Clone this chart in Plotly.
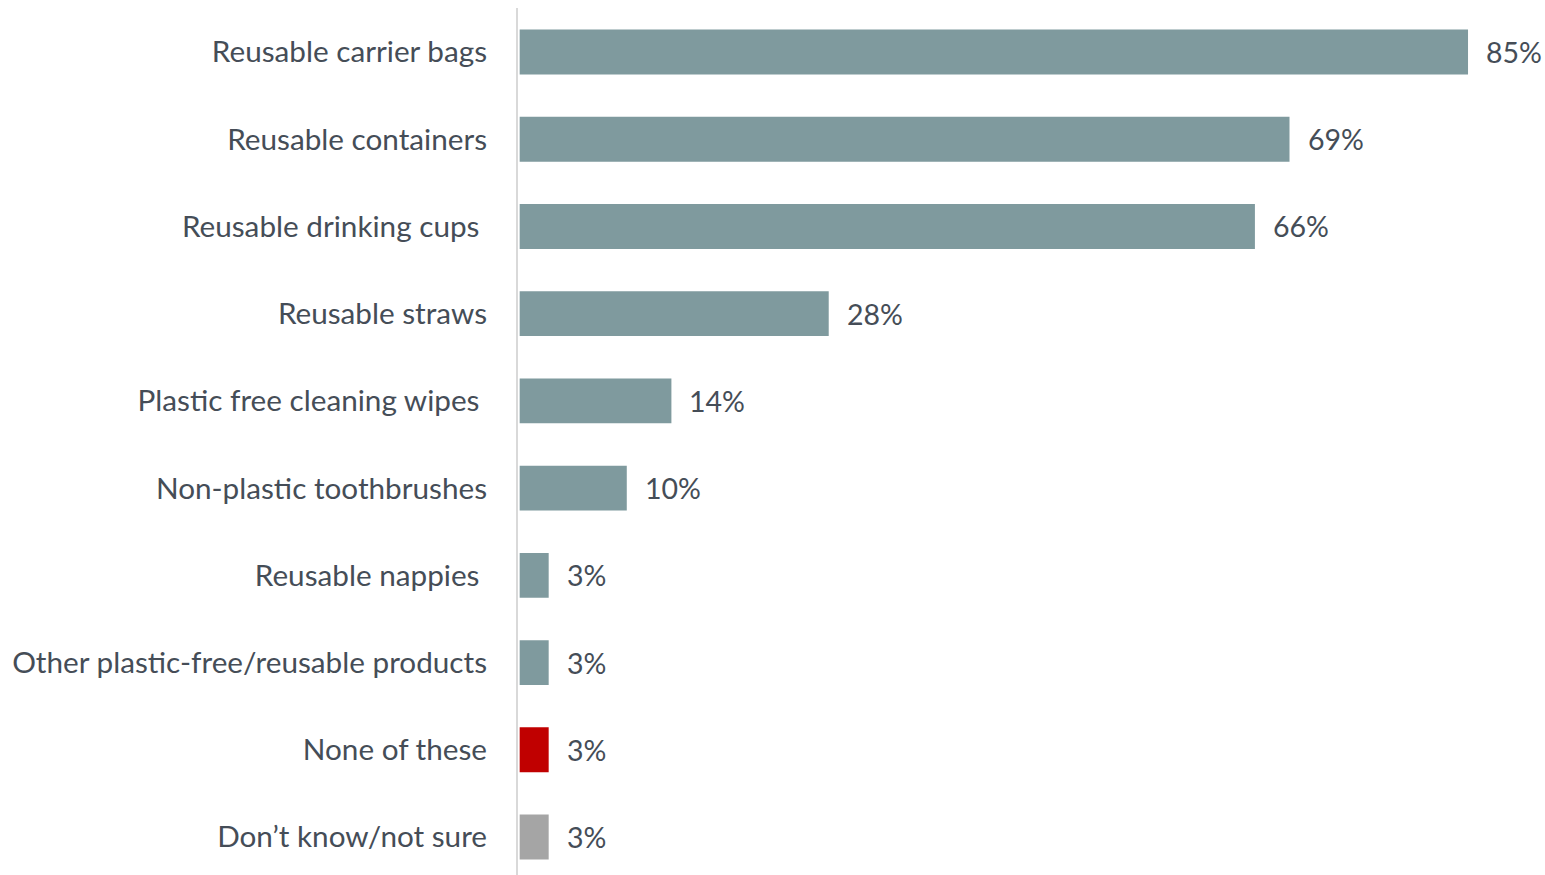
import plotly.graph_objects as go

categories = [
    "Reusable carrier bags",
    "Reusable containers",
    "Reusable drinking cups\u00a0",
    "Reusable straws",
    "Plastic free cleaning wipes\u00a0",
    "Non-plastic toothbrushes",
    "Reusable nappies\u00a0",
    "Other plastic-free/reusable products",
    "None of these",
    "Don\u2019t know/not sure",
]
values = [85, 69, 65.9, 27.7, 13.6, 9.6, 2.6, 2.6, 2.6, 2.6]
value_labels = ["85%", "69%", "66%", "28%", "14%", "10%", "3%", "3%", "3%", "3%"]
colors = ["#7F9A9E"] * 8 + ["#C00000", "#A5A5A5"]

TEXT = "#454D57"
FONT = "Lato"

fig = go.Figure()
fig.add_trace(go.Bar(
    x=values, y=list(range(len(categories))), orientation="h",
    marker=dict(color=colors, line=dict(width=0)),
    hoverinfo="skip",
))
for i, (v, t) in enumerate(zip(values, value_labels)):
    fig.add_annotation(x=v, y=i, text=t, showarrow=False, xanchor="left",
                       xshift=16, font=dict(family=FONT, size=28.5, color=TEXT))

fig.update_layout(
    width=1545, height=875,
    margin=dict(l=518, r=0, t=8, b=0),
    paper_bgcolor="white", plot_bgcolor="white",
    bargap=0.485, showlegend=False,
    font=dict(family=FONT, size=28, color=TEXT),
)
fig.update_xaxes(range=[-0.15, 91.9], showgrid=False, zeroline=False,
                 showticklabels=False, showline=False)
fig.update_yaxes(range=[9.435, -0.504], tickmode="array",
                 tickvals=list(range(len(categories))), ticktext=categories,
                 showgrid=False, zeroline=False, showline=True,
                 linecolor="#D9D9D9", linewidth=2, ticks="",
                 ticklabelstandoff=23, tickfont=dict(family=FONT, size=29.7, color=TEXT))

fig.write_html("out.html")
